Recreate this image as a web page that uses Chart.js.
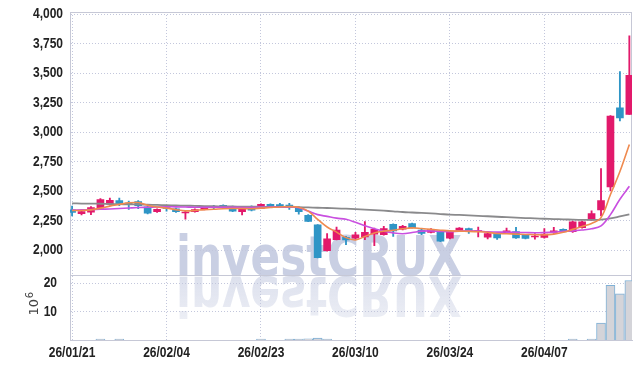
<!DOCTYPE html>
<html>
<head>
<meta charset="utf-8">
<script src="https://cdn.jsdelivr.net/npm/chart.js@4.4.1/dist/chart.umd.min.js"></script>
<style>
  html, body { margin: 0; padding: 0; background: #fff; }
</style>
</head>
<body>
<canvas id="priceChart" width="642" height="369"></canvas>
<script>
/* =====================================
   CANDLE CHART - investCRUX style
===================================== */

/* ===== DATA ===== */
const dates = [
  "26/01/21", "26/01/22", "26/01/23", "26/01/26", "26/01/27", "26/01/28", "26/01/29", "26/01/30", "26/02/02", "26/02/03",
  "26/02/04", "26/02/05", "26/02/06", "26/02/09", "26/02/10", "26/02/11", "26/02/12", "26/02/13", "26/02/19", "26/02/20",
  "26/02/23", "26/02/24", "26/02/25", "26/02/26", "26/02/27", "26/03/03", "26/03/04", "26/03/05", "26/03/06", "26/03/09",
  "26/03/10", "26/03/11", "26/03/12", "26/03/13", "26/03/16", "26/03/17", "26/03/18", "26/03/19", "26/03/20", "26/03/23",
  "26/03/24", "26/03/25", "26/03/26", "26/03/27", "26/03/30", "26/03/31", "26/04/01", "26/04/02", "26/04/03", "26/04/06",
  "26/04/07", "26/04/08", "26/04/09", "26/04/10", "26/04/13", "26/04/14", "26/04/15", "26/04/16", "26/04/17", "26/04/20"
];

const opens = [
  2340, 2308, 2320, 2355, 2388, 2420, 2398, 2410, 2365, 2325,
  2360, 2350, 2315, 2325, 2345, 2366, 2378, 2368, 2325, 2360,
  2353, 2387, 2385, 2380, 2360, 2295, 2213, 1995, 2088, 2108,
  2100, 2112, 2135, 2130, 2218, 2176, 2224, 2170, 2150, 2160,
  2100, 2166, 2182, 2155, 2108, 2135, 2142, 2157, 2125, 2110,
  2107, 2150, 2175, 2155, 2190, 2255, 2340, 2535, 3205, 3150
];
const highs = [
  2372, 2332, 2368, 2436, 2440, 2440, 2415, 2418, 2370, 2350,
  2375, 2356, 2328, 2350, 2368, 2378, 2382, 2372, 2360, 2375,
  2392, 2392, 2395, 2395, 2365, 2300, 2215, 2140, 2195, 2115,
  2150, 2240, 2185, 2200, 2222, 2210, 2228, 2175, 2182, 2165,
  2162, 2190, 2186, 2195, 2145, 2138, 2185, 2193, 2128, 2140,
  2182, 2193, 2180, 2245, 2245, 2333, 2690, 3140, 3513, 3815
];
const lows = [
  2290, 2298, 2300, 2350, 2380, 2375, 2345, 2350, 2305, 2318,
  2330, 2318, 2262, 2320, 2340, 2345, 2355, 2325, 2297, 2332,
  2350, 2365, 2368, 2345, 2303, 2240, 1933, 1990, 2085, 2045,
  2090, 2087, 2036, 2125, 2115, 2170, 2185, 2130, 2145, 2070,
  2095, 2160, 2140, 2110, 2095, 2090, 2138, 2098, 2095, 2093,
  2100, 2140, 2150, 2150, 2185, 2250, 2288, 2500, 3095, 3150
];
const closes = [
  2318, 2325, 2360, 2428, 2422, 2395, 2392, 2375, 2312, 2345,
  2352, 2325, 2322, 2342, 2360, 2358, 2360, 2330, 2355, 2338,
  2387, 2370, 2372, 2372, 2325, 2242, 1935, 2095, 2168, 2085,
  2128, 2150, 2175, 2182, 2162, 2200, 2190, 2140, 2175, 2075,
  2157, 2185, 2163, 2164, 2140, 2102, 2162, 2102, 2098, 2118,
  2135, 2162, 2158, 2238, 2238, 2308, 2420, 3135, 3120, 3480
];

// volume, millions of shares
const volumes = [
  0, 0, 0, 0.3, 0, 0.3, 0, 0, 0, 0,
  0, 0, 0, 0, 0, 0, 0, 0, 0, 0,
  0.3, 0, 0, 0.3, 0.3, 0.4, 0.7, 0.3, 0, 0,
  0, 0, 0, 0, 0, 0, 0, 0, 0, 0,
  0, 0, 0, 0, 0, 0, 0, 0, 0, 0,
  0, 0, 0, 0.3, 0, 0.3, 6.0, 19.3, 16.3, 21.0
];

// moving averages (orange / purple / gray)
const ma5 = [
  2335, 2335, 2340, 2355, 2372, 2386, 2400, 2402, 2380, 2365,
  2355, 2342, 2332, 2335, 2342, 2345, 2350, 2352, 2352, 2350,
  2355, 2360, 2365, 2368, 2362, 2330, 2260, 2195, 2152, 2105,
  2085, 2115, 2145, 2160, 2168, 2180, 2188, 2182, 2175, 2168,
  2162, 2160, 2158, 2155, 2150, 2140, 2138, 2135, 2132, 2130,
  2128, 2135, 2150, 2175, 2200, 2225, 2275, 2470, 2665, 2895
];
const ma10 = [
  2338, 2340, 2342, 2345, 2348, 2352, 2356, 2360, 2362, 2365,
  2366, 2366, 2364, 2362, 2362, 2362, 2362, 2362, 2360, 2360,
  2362, 2364, 2365, 2365, 2358, 2330, 2300, 2285, 2270, 2260,
  2235, 2205, 2180, 2160, 2145, 2138, 2148, 2160, 2162, 2158,
  2155, 2160, 2162, 2160, 2155, 2152, 2152, 2150, 2148, 2146,
  2148, 2152, 2158, 2162, 2170, 2180, 2205, 2300, 2430, 2540
];
const ma60 = [
  2395, 2394, 2393, 2392, 2390, 2389, 2387, 2386, 2384, 2382,
  2380, 2378, 2376, 2374, 2372, 2371, 2370, 2369, 2368, 2367,
  2366, 2365, 2365, 2364, 2363, 2361, 2358, 2356, 2353, 2350,
  2347, 2343, 2338, 2333, 2328, 2322, 2318, 2314, 2310, 2305,
  2300, 2297, 2293, 2290, 2286, 2282, 2278, 2274, 2271, 2268,
  2265, 2262, 2260, 2257, 2255, 2255, 2258, 2268, 2285, 2303
];

const priceTicks = [2000, 2250, 2500, 2750, 3000, 3250, 3500, 3750, 4000];
const volumeTicks = [10, 20];
const dateTicks = [0, 10, 20, 30, 40, 50];

/* ===== STYLE ===== */
const UP = "#e2196b";
const DOWN = "#2f95c6";
const GRID = "#c3c7dc";
const FRAME = "#c6c8d6";
const LABEL_FONT = "bold 15px 'Liberation Sans', Arial, sans-serif";
const NARROW = 0.8;
const TICK_COLOR = "#222";

const candleColors = opens.map((o, i) => closes[i] >= o ? UP : DOWN);
const xy = arr => arr.map((v, i) => ({ x: i, y: v }));

// condensed label: squeeze a normal bold face horizontally
function narrowText(ctx, text, x, y, align) {
  const w = ctx.measureText(text).width * NARROW;
  const left = align === "right" ? x - w : align === "center" ? x - w / 2 : x;
  ctx.save();
  ctx.translate(left, y);
  ctx.scale(NARROW, 1);
  ctx.fillText(text, 0, 0);
  ctx.restore();
}

/* ===== PLUGINS ===== */
const watermark = {
  id: "watermark",
  beforeDraw(chart) {
    const { ctx, chartArea: a } = chart;
    const text = "investCRUX";
    ctx.save();
    ctx.font = "bold 56px 'DejaVu Sans Condensed', 'DejaVu Sans', sans-serif";
    const sx = 286 / ctx.measureText(text).width;
    ctx.translate(a.left + 106, 275);
    ctx.scale(sx, 1);
    ctx.textBaseline = "alphabetic";
    ctx.fillStyle = "#c9cfe3";
    ctx.fillText(text, 0, 0);
    // mirrored copy under the baseline
    ctx.scale(1, -1);
    const g = ctx.createLinearGradient(0, 0, 0, -45);
    g.addColorStop(0, "rgba(201,207,227,0.65)");
    g.addColorStop(1, "rgba(201,207,227,0.35)");
    ctx.fillStyle = g;
    ctx.fillText(text, 0, -2);
    ctx.restore();
  }
};

const frame = {
  id: "frame",
  beforeDatasetsDraw(chart) {
    const { ctx, chartArea: a, scales } = chart;
    const sep = Math.round(scales.y.bottom) + 0.5;
    ctx.save();
    ctx.strokeStyle = FRAME;
    ctx.lineWidth = 1;
    ctx.beginPath();
    ctx.moveTo(a.left, Math.round(a.top) + 0.5);
    ctx.lineTo(a.right, Math.round(a.top) + 0.5);
    ctx.moveTo(Math.round(a.right) - 0.5, a.top);
    ctx.lineTo(Math.round(a.right) - 0.5, a.bottom);
    ctx.moveTo(a.left, sep);
    ctx.lineTo(a.right, sep);
    ctx.stroke();
    ctx.restore();
  },
  afterDraw(chart) {
    const { ctx, scales, chartArea: a } = chart;
    ctx.save();
    ctx.fillStyle = TICK_COLOR;
    ctx.font = LABEL_FONT;
    ctx.textBaseline = "middle";
    scales.y.ticks.forEach(t => {
      narrowText(ctx, t.value.toLocaleString("en-US"), a.left - 7, scales.y.getPixelForValue(t.value), "right");
    });
    scales.v.ticks.forEach(t => {
      narrowText(ctx, String(t.value), a.left - 13, scales.v.getPixelForValue(t.value), "right");
    });
    scales.x.ticks.forEach(t => {
      narrowText(ctx, dates[t.value], scales.x.getPixelForValue(t.value), a.bottom + 13, "center");
    });

    // volume unit label "10^6"
    const v = scales.v;
    const cy = (v.top + v.bottom) / 2;
    ctx.fillStyle = "#444";
    ctx.translate(38, cy + 8);
    ctx.rotate(-Math.PI / 2);
    ctx.textBaseline = "alphabetic";
    ctx.font = "13px 'DejaVu Sans', sans-serif";
    ctx.fillText("10", 0, 0);
    const w = ctx.measureText("10").width;
    ctx.font = "10px 'DejaVu Sans', sans-serif";
    ctx.fillText("6", w + 0.5, -5);
    ctx.restore();
  }
};

/* ===== CHART ===== */
function renderCandleChart() {
  new Chart(document.getElementById("priceChart"), {
    data: {
      datasets: [
        {
          type: "line", label: "MA5", yAxisID: "y", data: xy(ma5),
          borderColor: "#ef8a4f", borderWidth: 1.6, pointRadius: 0, tension: 0.35, order: 1
        },
        {
          type: "line", label: "MA10", yAxisID: "y", data: xy(ma10),
          borderColor: "#c94fe0", borderWidth: 1.6, pointRadius: 0, tension: 0.35, order: 1
        },
        {
          type: "line", label: "MA60", yAxisID: "y", data: xy(ma60),
          borderColor: "#8a8a8c", borderWidth: 1.8, pointRadius: 0, tension: 0.35, order: 1
        },
        {
          type: "bar", label: "body", yAxisID: "y",
          data: opens.map((o, i) => ({ x: i, y: [o, closes[i]] })),
          backgroundColor: candleColors, barThickness: 7, grouped: false, order: 2
        },
        {
          type: "bar", label: "wick", yAxisID: "y",
          data: lows.map((l, i) => ({ x: i, y: [l, highs[i]] })),
          backgroundColor: candleColors, barThickness: 1.2, grouped: false, order: 3
        },
        {
          type: "bar", label: "volume", yAxisID: "v", data: xy(volumes),
          backgroundColor: "#d4d4d9", borderColor: "#7fb1d6", borderWidth: 1,
          barThickness: 9, grouped: false, order: 4
        }
      ]
    },
    options: {
      responsive: false,
      animation: false,
      devicePixelRatio: 1,
      layout: { padding: { top: 12, right: 10, bottom: 0, left: 0 } },
      plugins: { legend: { display: false }, tooltip: { enabled: false } },
      scales: {
        x: {
          type: "linear", min: -0.22, max: 59.28, offset: false,
          afterBuildTicks: s => { s.ticks = dateTicks.map(v => ({ value: v })); },
          afterFit: s => { s.height = 29; },
          ticks: { display: false },
          grid: { color: GRID, drawTicks: false, offset: false },
          border: { color: FRAME, dash: [1, 2] }
        },
        v: {
          type: "linear", position: "left", stack: "panel", stackWeight: 65,
          min: 0, max: 23,
          afterBuildTicks: s => { s.ticks = volumeTicks.map(v => ({ value: v })); },
          afterFit: s => { s.width = 70; },
          ticks: { display: false },
          grid: { color: GRID, drawTicks: false },
          border: { color: FRAME, dash: [1, 2] }
        },
        y: {
          type: "linear", position: "left", stack: "panel", stackWeight: 262,
          min: 1790, max: 4017,
          afterBuildTicks: s => { s.ticks = priceTicks.map(v => ({ value: v })); },
          afterFit: s => { s.width = 70; },
          ticks: { display: false },
          grid: { color: GRID, drawTicks: false },
          border: { color: FRAME, dash: [1, 2] }
        }
      }
    },
    plugins: [watermark, frame]
  });
}

renderCandleChart();
</script>
</body>
</html>
